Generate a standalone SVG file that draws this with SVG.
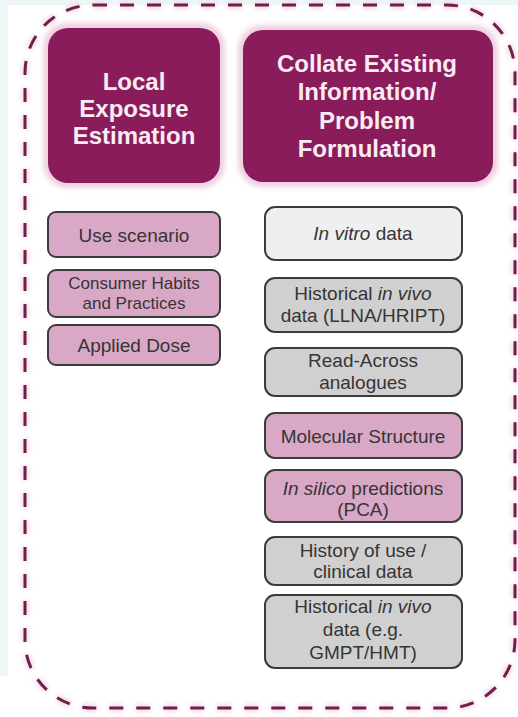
<svg xmlns="http://www.w3.org/2000/svg" width="518" height="717" viewBox="0 0 518 717">
  <style>
    .hdr { fill: #8b1c5b; }
    .halo { fill: #eed0e1; }
    .htxt { font-family: "Liberation Sans", Arial, sans-serif; font-weight: bold; font-size: 24px; fill: #f9ecf3; text-anchor: middle; }
    .box { stroke: #3b3b3b; stroke-width: 2; }
    .pink { fill: #d9a8c7; }
    .light { fill: #efefef; }
    .grey { fill: #d0d0d0; }
    .btxt { font-family: "Liberation Sans", Arial, sans-serif; font-size: 19px; fill: #353535; text-anchor: middle; }
    .small { font-size: 17px; }
    .frame { fill: none; stroke: #6e1f4c; stroke-width: 3; stroke-dasharray: 14 13; }
    .frameGlow { fill: none; stroke: #f3d5e6; stroke-width: 7; stroke-dasharray: 14 13; }
  </style>
  <defs>
    <filter id="soft" x="-10%" y="-10%" width="120%" height="120%">
      <feGaussianBlur stdDeviation="2.5"/>
    </filter>
  </defs>

  <!-- page background -->
  <rect x="0" y="0" width="518" height="717" fill="#edf7f7"/>
  <rect x="8" y="5" width="510" height="712" fill="#ffffff"/>
  <rect x="0" y="676" width="8" height="41" fill="#ffffff"/>

  <!-- dashed boundary -->
  <g id="boundary">
    <rect class="frameGlow" x="25" y="5" width="490" height="703" rx="68" ry="68" filter="url(#soft)"/>
    <rect class="frame" x="25" y="5" width="490" height="703" rx="68" ry="68"/>
  </g>

  <!-- column headers -->
  <g id="local-exposure">
    <rect class="halo" x="43" y="23" width="182" height="165" rx="24" filter="url(#soft)"/>
    <rect class="hdr" x="48" y="28" width="172" height="155" rx="20"/>
    <text class="htxt" x="134" y="90">Local</text>
    <text class="htxt" x="134" y="117">Exposure</text>
    <text class="htxt" x="134" y="144">Estimation</text>
  </g>

  <g id="collate-existing">
    <rect class="halo" x="238" y="25" width="260" height="162" rx="24" filter="url(#soft)"/>
    <rect class="hdr" x="243" y="30" width="250" height="152" rx="20"/>
    <text class="htxt" x="367" y="72">Collate Existing</text>
    <text class="htxt" x="367" y="100">Information/</text>
    <text class="htxt" x="367" y="129">Problem</text>
    <text class="htxt" x="367" y="157">Formulation</text>
  </g>

  <!-- exposure inputs -->
  <g id="use-scenario">
    <rect class="box pink" x="48" y="212" width="172" height="45" rx="8"/>
    <text class="btxt" x="134" y="242">Use scenario</text>
  </g>
  <g id="consumer-habits">
    <rect class="box pink" x="48" y="270" width="172" height="47" rx="8"/>
    <text class="btxt small" x="134" y="289">Consumer Habits</text>
    <text class="btxt small" x="134" y="309">and Practices</text>
  </g>
  <g id="applied-dose">
    <rect class="box pink" x="48" y="325" width="172" height="40" rx="8"/>
    <text class="btxt" x="134" y="352">Applied Dose</text>
  </g>

  <!-- existing information sources -->
  <g id="in-vitro">
    <rect class="box light" x="265" y="207" width="197" height="53" rx="10"/>
    <text class="btxt" x="363" y="240"><tspan font-style="italic">In vitro</tspan> data</text>
  </g>
  <g id="historical-llna">
    <rect class="box grey" x="265" y="278" width="197" height="54" rx="10"/>
    <text class="btxt" x="363" y="300">Historical <tspan font-style="italic">in vivo</tspan></text>
    <text class="btxt" x="363" y="322">data (LLNA/HRIPT)</text>
  </g>
  <g id="read-across">
    <rect class="box grey" x="265" y="348" width="197" height="48" rx="10"/>
    <text class="btxt" x="363" y="367">Read-Across</text>
    <text class="btxt" x="363" y="389">analogues</text>
  </g>
  <g id="molecular-structure">
    <rect class="box pink" x="265" y="413" width="197" height="45" rx="10"/>
    <text class="btxt" x="363" y="443">Molecular Structure</text>
  </g>
  <g id="in-silico">
    <rect class="box pink" x="265" y="470" width="197" height="52" rx="10"/>
    <text class="btxt" x="363" y="495"><tspan font-style="italic">In silico</tspan> predictions</text>
    <text class="btxt" x="363" y="516">(PCA)</text>
  </g>
  <g id="history-of-use">
    <rect class="box grey" x="265" y="537" width="197" height="48" rx="10"/>
    <text class="btxt" x="363" y="557">History of use /</text>
    <text class="btxt" x="363" y="578">clinical data</text>
  </g>
  <g id="historical-gmpt">
    <rect class="box grey" x="265" y="595" width="197" height="73" rx="10"/>
    <text class="btxt" x="363" y="613">Historical <tspan font-style="italic">in vivo</tspan></text>
    <text class="btxt" x="363" y="636">data (e.g.</text>
    <text class="btxt" x="363" y="659">GMPT/HMT)</text>
  </g>
</svg>
